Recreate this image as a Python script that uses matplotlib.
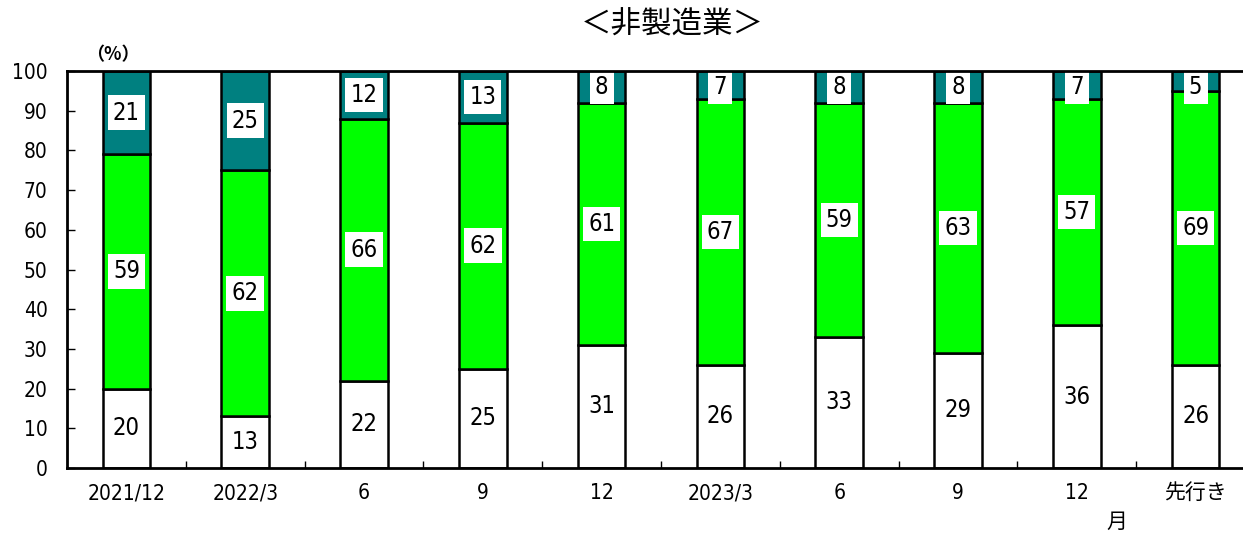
import matplotlib
matplotlib.use('Agg')
import matplotlib.pyplot as plt
from matplotlib.ticker import MultipleLocator, FixedLocator
import numpy as np

plt.rcParams['font.family'] = ['DejaVu Sans', 'Noto Sans CJK JP']
plt.rcParams['font.stretch'] = 'condensed'

categories = ['2021/12', '2022/3', '6', '9', '12', '2023/3', '6', '9', '12', '先行き']
bottom_vals = [20, 13, 22, 25, 31, 26, 33, 29, 36, 26]
middle_vals = [59, 62, 66, 62, 61, 67, 59, 63, 57, 69]
top_vals = [21, 25, 12, 13, 8, 7, 8, 8, 7, 5]

fig = plt.figure(figsize=(12.43, 5.35), dpi=100)
ax = fig.add_axes([67 / 1243, 1 - 468 / 535, 1188 / 1243, (468 - 71) / 535])

x = np.arange(len(categories))
w = 0.4
lw = 1.8
b1 = np.array(bottom_vals)
b2 = b1 + np.array(middle_vals)
ax.bar(x, bottom_vals, w, color='white', edgecolor='black', linewidth=lw, zorder=2)
ax.bar(x, middle_vals, w, bottom=b1, color='#00ff00', edgecolor='black', linewidth=lw, zorder=2)
ax.bar(x, top_vals, w, bottom=b2, color='#008080', edgecolor='black', linewidth=lw, zorder=2)

box = dict(boxstyle='square,pad=0.22', facecolor='white', edgecolor='none')
for i in range(len(categories)):
    segs = [(0, bottom_vals[i]), (b1[i], middle_vals[i]), (b2[i], top_vals[i])]
    for j, (base, v) in enumerate(segs):
        y = base + v / 2
        if j == 2:
            y = min(y, 95.9)
        ax.text(x[i], y, str(v), ha='center', va='center', fontsize=17,
                bbox=box, zorder=4, clip_on=True)

ax.set_xlim(-0.5, len(categories) - 0.5)
ax.set_ylim(0, 100)
ax.yaxis.set_major_locator(MultipleLocator(10))
ax.set_xticks(x)
ax.set_xticklabels(categories, fontsize=15)
ax.xaxis.set_minor_locator(FixedLocator(x[:-1] + 0.5))
ax.tick_params(axis='x', which='major', length=0, pad=11)
ax.tick_params(axis='x', which='minor', direction='in', length=5, width=1)
ax.tick_params(axis='y', direction='in', length=6, width=1, labelsize=15, pad=14)
for s in ax.spines.values():
    s.set_linewidth(2)
    s.set_zorder(6)

fig.text(113 / 1243, 1 - 55 / 535, '（%）', ha='center', va='center', fontsize=13,
         fontweight='bold', family=['Noto Sans CJK JP'])
fig.text(672 / 1243, 1 - 25 / 535, '＜非製造業＞', ha='center', va='center', fontsize=22,
         family=['Noto Sans CJK JP'])
fig.text(1117 / 1243, 1 - 522 / 535, '月', ha='center', va='center', fontsize=15,
         family=['Noto Sans CJK JP'])

fig.savefig('out.png', dpi=100)
